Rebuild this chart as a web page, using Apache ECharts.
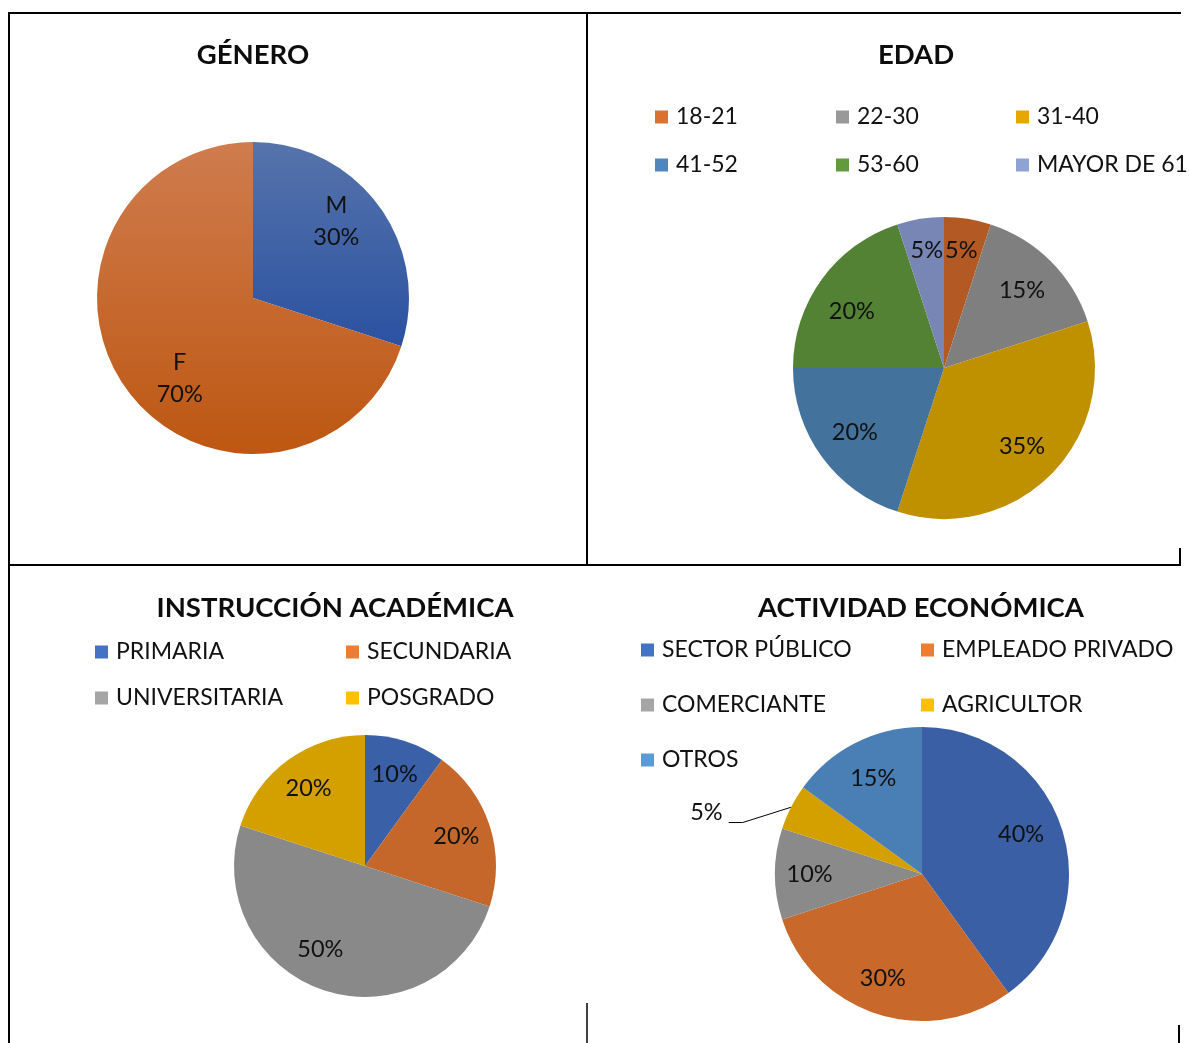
<!DOCTYPE html>
<html><head><meta charset="utf-8">
<script src="https://cdn.jsdelivr.net/npm/echarts@6/dist/echarts.min.js"></script>
<style>html,body{margin:0;padding:0;background:#fff}#c{width:1189px;height:1043px}</style>
</head><body><div id="c"></div>
<script>
// ---- data ----
const generoCats = ['M', 'F'];
const generoVals = [30, 70];
const edadCats = ['18-21', '22-30', '31-40', '41-52', '53-60', 'MAYOR DE 61'];
const edadVals = [5, 15, 35, 20, 20, 5];
const instrCats = ['PRIMARIA', 'SECUNDARIA', 'UNIVERSITARIA', 'POSGRADO'];
const instrVals = [10, 20, 50, 20];
const activCats = ['SECTOR PÚBLICO', 'EMPLEADO PRIVADO', 'COMERCIANTE', 'AGRICULTOR', 'OTROS'];
const activVals = [40, 30, 10, 5, 15];

// ---- styles ----
const FONT = 'Lato, "Open Sans", sans-serif';
const TXT = '#111111';
const LBL = 23.5;
const generoGrad = [['#5673AB', '#2B52A1'], ['#D07C4E', '#BD5712']];
const edadPie = ['#B35A24', '#7F7F7F', '#BF9000', '#43729C', '#548235', '#7886B5'];
const edadLeg = ['#D9722E', '#999999', '#E6A800', '#4F86BE', '#629A3E', '#8FA2D4'];
const instrPie = ['#3A60A8', '#C5672A', '#898989', '#D4A000'];
const instrLeg = ['#4472C4', '#ED7D31', '#A5A5A5', '#FFC000'];
const activPie = ['#3A5FA5', '#C8682A', '#8A8A8A', '#D4A000', '#4A7FB5'];
const activLeg = ['#4472C4', '#ED7D31', '#A5A5A5', '#FFC000', '#5B9BD5'];

const chart = echarts.init(document.getElementById('c'), null, {renderer: 'canvas'});

function grad(c) {
  return new echarts.graphic.LinearGradient(0, 0, 0, 1, [{offset: 0, color: c[0]}, {offset: 1, color: c[1]}]);
}
function pieData(cats, vals, colors) {
  return cats.map((n, i) => ({name: n, value: vals[i], itemStyle: {color: colors[i]}}));
}
function labelData(cats, vals) {
  return cats.map((n, i) => ({name: n, value: vals[i]}));
}
function visPie(center, r, data) {
  return {type: 'pie', center: center, radius: [0, r], startAngle: 90, clockwise: true,
    data: data, label: {show: false}, labelLine: {show: false}, silent: true,
    itemStyle: {borderWidth: 0}, emphasis: {disabled: true}, animation: false};
}
function labelPie(center, r, data, fmt, extra) {
  return Object.assign({type: 'pie', center: center, radius: [r * 0.42, r], startAngle: 90, clockwise: true,
    data: data, silent: true, itemStyle: {color: 'rgba(0,0,0,0)', borderWidth: 0},
    label: {show: true, position: 'inside', formatter: fmt, fontFamily: FONT, fontSize: LBL, color: TXT, lineHeight: 32},
    labelLine: {show: false}, emphasis: {disabled: true}, animation: false}, extra || {});
}
function legendCol(left, top, names, catList, colors, gap) {
  return {left: left, top: top, orient: 'vertical', padding: 0, itemGap: gap,
    itemWidth: 13, itemHeight: 13, icon: 'rect', selectedMode: false,
    data: names.map(n => ({name: n, itemStyle: {color: colors[catList.indexOf(n)]}})),
    textStyle: {fontFamily: FONT, fontSize: 23, color: TXT, lineHeight: 24, padding: [0, 0, 0, 3]}};
}

const titleStyle = {fontFamily: FONT, fontSize: 27.5, fontWeight: 'bold', color: '#0d0d0d', lineHeight: 30};

// AGRICULTOR label outside with leader line
const activLabelData = labelData(activCats, activVals);
activLabelData[3].label = {position: 'outside', fontFamily: FONT, fontSize: LBL, color: TXT, padding: [0, 6, 20, 0]};
activLabelData[3].labelLine = {show: true, length: 6, length2: 14, lineStyle: {color: '#000', width: 1}};

const option = {
  backgroundColor: '#fff',
  animation: false,
  title: [
    {text: 'GÉNERO', left: 253, top: 40, padding: 0, textAlign: 'center', textStyle: titleStyle},
    {text: 'EDAD', left: 916, top: 40, padding: 0, textAlign: 'center', textStyle: titleStyle},
    {text: 'INSTRUCCIÓN ACADÉMICA', left: 335, top: 593, padding: 0, textAlign: 'center', textStyle: titleStyle},
    {text: 'ACTIVIDAD ECONÓMICA', left: 921, top: 593, padding: 0, textAlign: 'center', textStyle: titleStyle}
  ],
  legend: [
    legendCol(655, 105, ['18-21', '41-52'], edadCats, edadLeg, 24),
    legendCol(836, 105, ['22-30', '53-60'], edadCats, edadLeg, 24),
    legendCol(1016, 105, ['31-40', 'MAYOR DE 61'], edadCats, edadLeg, 24),
    legendCol(95, 640, ['PRIMARIA', 'UNIVERSITARIA'], instrCats, instrLeg, 22),
    legendCol(346, 640, ['SECUNDARIA', 'POSGRADO'], instrCats, instrLeg, 22),
    legendCol(641, 638, ['SECTOR PÚBLICO', 'COMERCIANTE', 'OTROS'], activCats, activLeg, 31),
    legendCol(921, 638, ['EMPLEADO PRIVADO', 'AGRICULTOR'], activCats, activLeg, 31)
  ],
  series: [
    visPie([253, 298], 156, generoCats.map((n, i) => ({name: n, value: generoVals[i], itemStyle: {color: grad(generoGrad[i])}}))),
    labelPie([253, 298], 156, labelData(generoCats, generoVals), '{b}\n{c}%', {
      radius: [156 * 0.44, 156],
      labelLayout: function (p) { return p.dataIndex === 0 ? {dx: -10, dy: -9} : {dx: 20, dy: 13}; }
    }),
    visPie([944, 368], 151, pieData(edadCats, edadVals, edadPie)),
    labelPie([944, 368], 151, labelData(edadCats, edadVals), '{c}%', {
      labelLayout: function (p) {
        if (p.dataIndex === 0 || p.dataIndex === 5) return {dy: -9};
        if (p.dataIndex === 4) return {dx: -3, dy: 8};
        return {};
      }
    }),
    visPie([365, 866], 131, pieData(instrCats, instrVals, instrPie)),
    labelPie([365, 866], 131, labelData(instrCats, instrVals), '{c}%', {
      labelLayout: function (p) { return p.dataIndex === 2 ? {dx: -15, dy: -8} : {}; }
    }),
    visPie([922, 874], 147, pieData(activCats, activVals, activPie)),
    labelPie([922, 874], 147, activLabelData, '{c}%', {
      labelLayout: function (p) {
        if (p.dataIndex === 3) {
          return {x: p.labelRect.x - 38, y: p.labelRect.y + 18, align: 'left', verticalAlign: 'top'};
        }
        if (p.dataIndex === 0) return {dx: -3, dy: -6};
        if (p.dataIndex === 1) return {dx: -6, dy: 2};
        if (p.dataIndex === 2) return {dx: -5};
        return {};
      }
    })
  ],
  graphic: [
    {type: 'line', shape: {x1: 8, y1: 13, x2: 1181, y2: 13}, style: {stroke: '#000', lineWidth: 2}},
    {type: 'line', shape: {x1: 9, y1: 12, x2: 9, y2: 1043}, style: {stroke: '#000', lineWidth: 2}},
    {type: 'line', shape: {x1: 587, y1: 12, x2: 587, y2: 566}, style: {stroke: '#000', lineWidth: 2}},
    {type: 'line', shape: {x1: 9, y1: 565, x2: 1181, y2: 565}, style: {stroke: '#000', lineWidth: 2}},
    {type: 'line', shape: {x1: 1180, y1: 548, x2: 1180, y2: 566}, style: {stroke: '#000', lineWidth: 2}},
    {type: 'line', shape: {x1: 587, y1: 1003, x2: 587, y2: 1043}, style: {stroke: '#000', lineWidth: 1.5}},
    {type: 'line', shape: {x1: 1179, y1: 1025, x2: 1179, y2: 1043}, style: {stroke: '#000', lineWidth: 2}}
  ]
};
chart.setOption(option);
</script></body></html>
